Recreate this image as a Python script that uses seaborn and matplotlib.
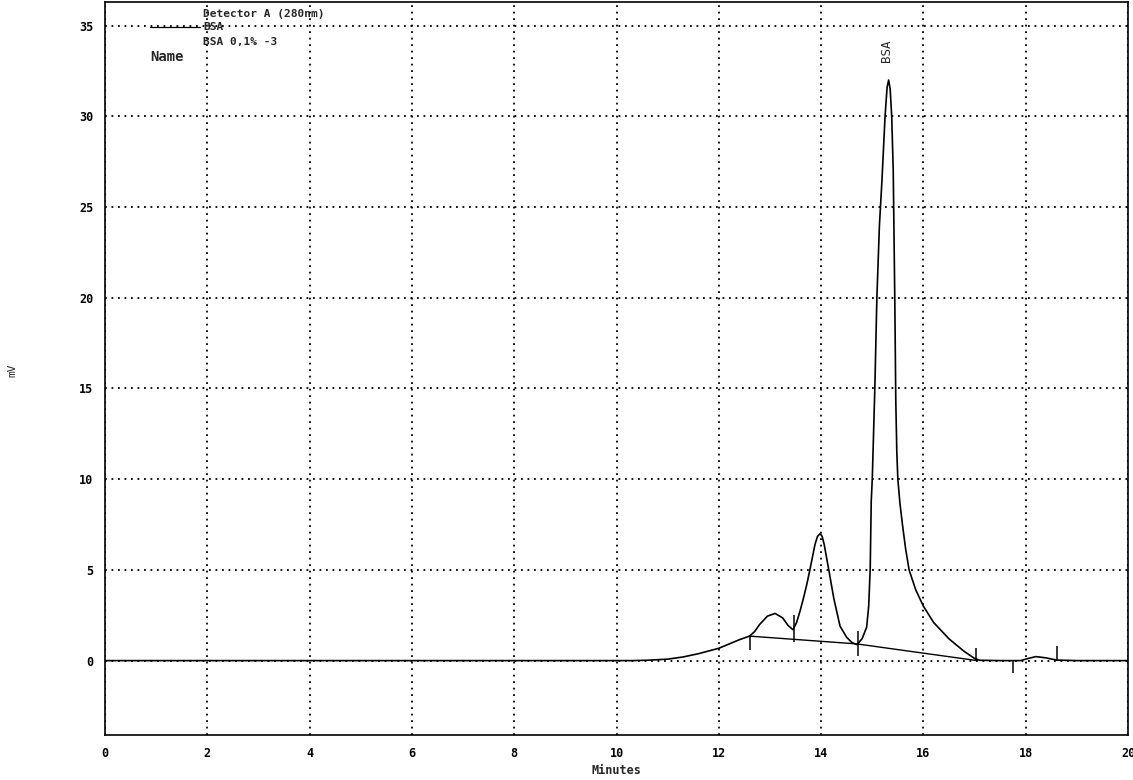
"""
HPLC chromatogram — BSA 0,1% -3, Detector A (280nm)
Redrawn from a scanned trace.
"""
import numpy as np
import pandas as pd
import matplotlib
matplotlib.use("Agg")
import matplotlib.pyplot as plt
import matplotlib.ticker as mticker
import seaborn as sns

# trace values (minutes, mV)
minutes = [0.0, 5.0, 10.3, 10.6, 11.0, 11.3, 11.6, 12.0, 12.4, 12.6, 12.7, 12.8,
           12.95, 13.1, 13.25, 13.35, 13.45, 13.52, 13.59, 13.66, 13.72, 13.78,
           13.88, 13.93, 13.98, 14.02, 14.06, 14.15, 14.25, 14.37, 14.5, 14.6,
           14.7, 14.8, 14.89, 14.93, 14.96, 14.98, 15.0, 15.05, 15.09, 15.14,
           15.19, 15.25, 15.29, 15.32, 15.35, 15.38, 15.41, 15.44, 15.46, 15.48,
           15.5, 15.54, 15.59, 15.65, 15.72, 15.85, 16.0, 16.2, 16.5, 16.8,
           17.0, 17.1, 17.5, 17.9, 18.05, 18.2, 18.4, 18.6, 19.0, 20.0]
signal_mv = [0.0, 0.0, 0.0, 0.02, 0.08, 0.2, 0.38, 0.68, 1.15, 1.35, 1.6, 2.0,
             2.45, 2.6, 2.35, 1.95, 1.7, 2.1, 2.75, 3.5, 4.2, 5.0,
             6.4, 6.85, 7.0, 6.85, 6.4, 5.0, 3.4, 1.9, 1.28, 1.0,
             0.88, 1.2, 1.84, 3.0, 5.1, 8.8, 10.0, 15.0, 20.0, 24.0,
             26.5, 30.0, 31.6, 32.0, 31.5, 30.0, 27.0, 20.0, 14.3, 11.5,
             10.0, 8.7, 7.5, 6.2, 5.0, 3.9, 3.0, 2.1, 1.2, 0.5,
             0.12, 0.02, 0.0, 0.0, 0.12, 0.22, 0.15, 0.03, 0.0, 0.0]

# integration baseline (drawn under the peak cluster)
base_min = [12.6, 14.7, 17.05]
base_mv = [1.35, 0.92, 0.0]

# event marks: time, low end, high end
mark_min = [12.6, 13.47, 14.72, 17.02, 17.75, 18.62]
mark_lo = [0.6, 1.0, 0.27, 0.0, -0.7, 0.0]
mark_hi = [1.4, 2.5, 1.65, 0.7, 0.0, 0.8]

x_ticks = list(range(0, 21, 2))
y_ticks = list(range(0, 36, 5))

trace = pd.DataFrame({"Minutes": minutes, "mV": signal_mv})

sns.set_style("white")
mono = ["DejaVu Sans Mono"]
plt.rcParams["font.family"] = mono

fig = plt.figure(figsize=(11.33, 7.8), dpi=100)
ax = fig.add_axes([0.0927, 0.0577, 0.9029, 0.9397])

sns.lineplot(data=trace, x="Minutes", y="mV", ax=ax, color="black",
             linewidth=1.2, estimator=None, sort=False)
ax.plot(base_min, base_mv, color="black", linewidth=1.0)
ax.vlines(mark_min, mark_lo, mark_hi, color="black", linewidth=1.1)

ax.set_xlim(0, 20)
ax.set_ylim(-4.1, 36.3)
ax.set_xticks(x_ticks)
ax.set_yticks(y_ticks)
ax.xaxis.set_minor_locator(mticker.MultipleLocator(0.2))
ax.yaxis.set_minor_locator(mticker.MultipleLocator(1))
ax.tick_params(axis="both", which="major", direction="out", length=5,
               width=1.0, labelsize=8.5, colors="black")
ax.tick_params(axis="both", which="minor", direction="out", length=2.5,
               width=0.9)
for lab in ax.get_xticklabels() + ax.get_yticklabels():
    lab.set_fontweight("bold")

ax.grid(True, which="major", color="black", linestyle=(0, (1, 2.6)),
        linewidth=1.3)
for side in ax.spines.values():
    side.set_color("black")
    side.set_linewidth(1.2)

ax.set_xlabel("Minutes", fontsize=8.5, fontweight="bold", labelpad=3)
ax.set_ylabel("")
fig.text(0.011, 0.525, "mV", rotation=90, fontsize=8, ha="center",
         va="center")

# header block
ax.text(1.92, 35.65, "Detector A (280nm)", fontsize=8, fontweight="bold",
        va="center")
ax.plot([0.88, 1.86], [34.95, 34.95], color="black", linewidth=0.9)
ax.text(1.92, 34.9, "BSA", fontsize=8, fontweight="bold", va="center")
ax.text(1.92, 34.1, "BSA 0,1% -3", fontsize=8, fontweight="bold",
        va="center")
ax.text(0.88, 33.25, "Name", fontsize=10, fontweight="bold", va="center")

# peak label
ax.text(15.27, 33.6, "BSA", rotation=90, fontsize=9, ha="center",
        va="center")

fig.savefig("out.png", dpi=100)
